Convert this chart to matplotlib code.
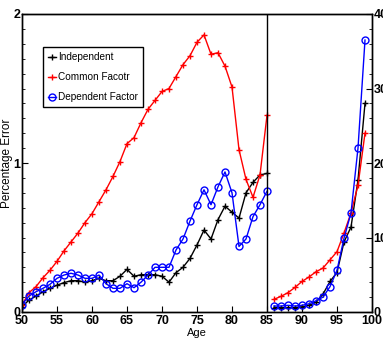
import matplotlib
matplotlib.use('Agg')
import matplotlib.pyplot as plt
from matplotlib.ticker import MultipleLocator

plt.rcParams['font.family'] = ['Liberation Sans Narrow', 'Liberation Sans', 'DejaVu Sans']

# left panel: ages 50-85, percentage error (0-2)
ages_left = list(range(50, 86))
independent_left = [0.035, 0.08, 0.107, 0.136, 0.159, 0.18, 0.197, 0.21, 0.21, 0.20,
                     0.21, 0.226, 0.21, 0.21, 0.24, 0.286, 0.24, 0.25, 0.25, 0.25,
                     0.24, 0.20, 0.264, 0.30, 0.36, 0.45, 0.55, 0.49, 0.62, 0.71,
                     0.67, 0.63, 0.80, 0.87, 0.92, 0.93]
common_left = [0.047, 0.13, 0.17, 0.23, 0.28, 0.34, 0.41, 0.47, 0.53, 0.60,
               0.66, 0.74, 0.82, 0.91, 1.01, 1.13, 1.17, 1.27, 1.36, 1.42,
               1.48, 1.50, 1.58, 1.66, 1.72, 1.81, 1.86, 1.73, 1.74, 1.65,
               1.51, 1.09, 0.89, 0.77, 0.92, 1.32]
dependent_left = [0.05, 0.107, 0.136, 0.159, 0.186, 0.226, 0.248, 0.26, 0.248, 0.226,
                  0.226, 0.248, 0.19, 0.159, 0.159, 0.19, 0.163, 0.20, 0.248, 0.30,
                  0.30, 0.30, 0.416, 0.49, 0.61, 0.72, 0.82, 0.72, 0.84, 0.94,
                  0.80, 0.44, 0.49, 0.64, 0.72, 0.81]

# right panel: ages 86-99, percentage error (0-40)
ages_right = list(range(86, 100))
independent_right = [0.6, 0.6, 0.6, 0.6, 0.7, 0.9, 1.3, 2.4, 4.1, 5.3, 9.4, 11.4, 17.7, 28.0]
common_right = [1.7, 2.1, 2.6, 3.3, 4.1, 4.7, 5.4, 5.9, 7.0, 8.1, 10.6, 13.3, 17.0, 24.0]
dependent_right = [0.8, 0.8, 0.9, 0.8, 0.9, 1.1, 1.5, 2.0, 3.4, 5.6, 9.9, 13.3, 22.0, 36.5]

fig = plt.figure(figsize=(3.83, 3.41), dpi=100)
ax = fig.add_axes([22 / 383, 29 / 341, 350 / 383, 298 / 341])
ax2 = ax.twinx()

ax.plot(ages_left, independent_left, color='black', marker='+', ms=5, lw=1, label='Independent')
ax.plot(ages_left, common_left, color='red', marker='+', ms=5, lw=1, label='Common Facotr')
ax.plot(ages_left, dependent_left, color='blue', marker='o', ms=5, mfc='none', mew=1, lw=1,
        label='Dependent Factor')

ax2.plot(ages_right, independent_right, color='black', marker='+', ms=5, lw=1)
ax2.plot(ages_right, common_right, color='red', marker='+', ms=5, lw=1)
ax2.plot(ages_right, dependent_right, color='blue', marker='o', ms=5, mfc='none', mew=1, lw=1)

ax.axvline(85, color='black', lw=1)

ax.set_xlim(50, 100)
ax.set_ylim(0, 2)
ax2.set_ylim(0, 40)

ax.set_xticks(range(50, 101, 5))
ax.set_yticks([0, 1, 2])
ax.yaxis.set_minor_locator(MultipleLocator(0.1))
ax2.set_yticks([0, 10, 20, 30, 40])
ax2.yaxis.set_minor_locator(MultipleLocator(2))

ax.tick_params(axis='both', which='both', direction='in', labelsize=9, pad=2)
ax.tick_params(axis='y', right=False, pad=1)
ax.tick_params(which='major', length=4)
ax.tick_params(which='minor', length=2)
ax2.tick_params(axis='y', which='both', direction='in', labelsize=9, pad=1)
ax2.tick_params(which='major', length=4)
ax2.tick_params(which='minor', length=2)
for lbl in ax.get_xticklabels() + ax.get_yticklabels() + ax2.get_yticklabels():
    lbl.set_fontweight('bold')

ax.set_xlabel('Age', fontsize=8, labelpad=1)
ax.set_ylabel('Percentage Error', fontsize=8.5)
ax.yaxis.set_label_coords(-0.027, 0.5)

leg = ax.legend(loc='upper left', bbox_to_anchor=(0.06, 0.889), fontsize=7.2,
                handlelength=0.8, handletextpad=0.2, borderpad=0.5, borderaxespad=0,
                labelspacing=1.0, fancybox=False, framealpha=1)
leg.get_frame().set_edgecolor('black')
leg.get_frame().set_linewidth(1)

for a in (ax, ax2):
    for s in a.spines.values():
        s.set_linewidth(1)

plt.savefig('out.png', dpi=100)
